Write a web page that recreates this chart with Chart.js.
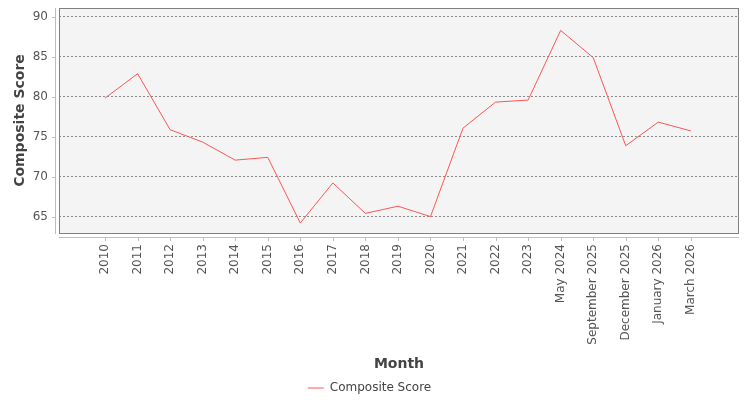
<!DOCTYPE html>
<html>
<head>
<meta charset="utf-8">
<script src="https://cdn.jsdelivr.net/npm/chart.js@4/dist/chart.umd.min.js"></script>
<style>
  body { margin: 0; background: #fff; }
  #wrap { width: 750px; height: 400px; }
</style>
</head>
<body>
<div id="wrap"><canvas id="grafica" width="750" height="400"></canvas></div>
<script>
// datos
const meses = ['2010', '2011', '2012', '2013', '2014', '2015', '2016', '2017', '2018', '2019',
	'2020', '2021', '2022', '2023', 'May 2024', 'September 2025', 'December 2025', 'January 2026', 'March 2026'];
const puntaje = [79.85, 82.9, 75.9, 74.35, 72.1, 72.45, 64.25, 69.25, 65.45, 66.35,
	65.05, 76.1, 79.35, 79.6, 88.3, 84.9, 73.9, 76.85, 75.75];
const ticksY = [65, 70, 75, 80, 85, 90];

const fuente = 'DejaVu Sans, Verdana, sans-serif';

// fondo, borde del area y ejes separados (estilo JFreeChart)
const marcoPlot = {
	id: 'marcoPlot',
	beforeDraw(chart) {
		const a = chart.chartArea;
		const ctx = chart.ctx;
		ctx.save();
		ctx.fillStyle = '#f4f4f4';
		ctx.fillRect(a.left, a.top, a.right - a.left, a.bottom - a.top);
		ctx.restore();
	},
	afterDraw(chart) {
		const a = chart.chartArea;
		const ctx = chart.ctx;
		const sx = chart.scales.x;
		const sy = chart.scales.y;
		ctx.save();
		ctx.lineWidth = 1;
		ctx.strokeStyle = '#808080';
		ctx.strokeRect(a.left + 0.5, a.top + 0.5, a.right - a.left - 1, a.bottom - a.top);
		ctx.strokeStyle = '#bdbdbd';
		ctx.beginPath();
		// eje y
		ctx.moveTo(a.left - 3.5, a.top);
		ctx.lineTo(a.left - 3.5, a.bottom + 1);
		// eje x
		ctx.moveTo(a.left, a.bottom + 4.5);
		ctx.lineTo(a.right, a.bottom + 4.5);
		sy.ticks.forEach(t => {
			const y = Math.round(sy.getPixelForValue(t.value)) + 0.5;
			ctx.moveTo(a.left - 7, y);
			ctx.lineTo(a.left - 3.5, y);
		});
		sx.ticks.forEach(t => {
			const x = Math.round(sx.getPixelForValue(t.value)) + 0.5;
			ctx.moveTo(x, a.bottom + 4.5);
			ctx.lineTo(x, a.bottom + 8);
		});
		ctx.stroke();
		ctx.restore();
	}
};

const ctx = document.getElementById('grafica').getContext('2d');
new Chart(ctx, {
	type: 'line',
	data: {
		datasets: [{
			label: 'Composite Score',
			data: puntaje.map((v, i) => ({ x: i, y: v })),
			borderColor: '#ff5555',
			backgroundColor: '#ff5555',
			borderWidth: 1,
			pointRadius: 0,
			tension: 0,
			fill: false
		}]
	},
	options: {
		responsive: false,
		animation: false,
		layout: {
			padding: { top: 8, right: 11, left: 0, bottom: -4 }
		},
		plugins: {
			legend: {
				position: 'bottom',
				labels: {
					usePointStyle: true,
					pointStyle: 'line',
					pointStyleWidth: 16,
					color: '#444',
					font: { family: fuente, size: 12 },
					padding: 2
				}
			},
			tooltip: { enabled: false }
		},
		scales: {
			x: {
				type: 'linear',
				min: -1.415,
				max: 19.48,
				afterBuildTicks: (s) => { s.ticks = meses.map((m, i) => ({ value: i })); },
				afterFit: (s) => { s.height = 147; s.paddingLeft = 0; s.paddingRight = 0; },
				grid: { display: false },
				border: { display: false },
				ticks: {
					autoSkip: false,
					maxRotation: 90,
					minRotation: 90,
					padding: 3,
					color: '#555',
					font: { family: fuente, size: 12 },
					callback: (v) => meses[v]
				},
				title: {
					display: true,
					text: 'Month',
					color: '#444',
					font: { family: fuente, size: 14, weight: 'bold' },
					padding: { top: 0, bottom: 7 }
				}
			},
			y: {
				min: 63,
				max: 91.1,
				afterBuildTicks: (s) => { s.ticks = ticksY.map(v => ({ value: v })); },
				afterFit: (s) => { s.width = 59; s.paddingTop = 0; s.paddingBottom = 0; },
				grid: {
					color: '#8a8a8a',
					lineWidth: 1,
					drawTicks: false
				},
				border: { display: false, dash: [2, 2] },
				ticks: {
					padding: 11,
					color: '#555',
					font: { family: fuente, size: 12 }
				},
				title: {
					display: true,
					text: 'Composite Score',
					color: '#444',
					font: { family: fuente, size: 14, weight: 'bold' },
					padding: { top: 12, bottom: 0 }
				}
			}
		}
	},
	plugins: [marcoPlot]
});
</script>
</body>
</html>
